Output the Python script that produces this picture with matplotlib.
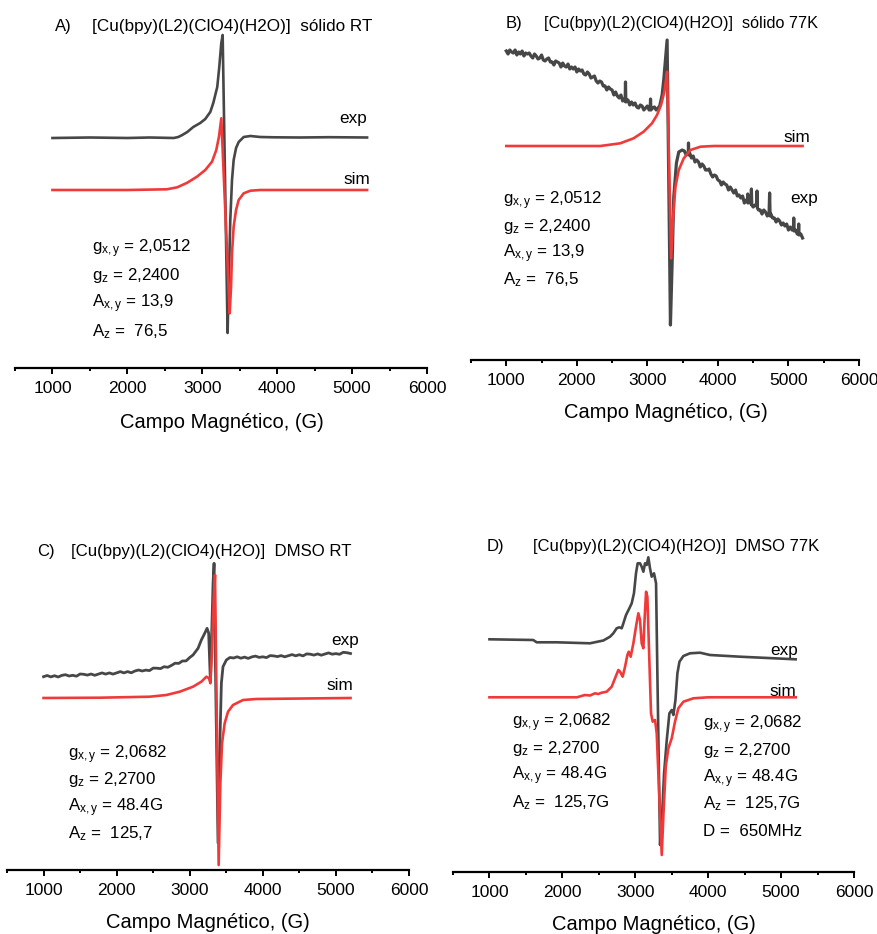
import matplotlib
matplotlib.use("Agg")
import matplotlib.pyplot as plt
from matplotlib.ticker import MultipleLocator

plt.rcParams['font.family'] = ['Liberation Sans', 'DejaVu Sans']
plt.rcParams['mathtext.fontset'] = 'custom'
plt.rcParams['mathtext.rm'] = 'Liberation Sans'
plt.rcParams['mathtext.it'] = 'Liberation Sans'

W, H = 877, 934
EXP_COLOR = '#474747'
SIM_COLOR = '#f03a3a'

# ---------------- spectra (field in G, intensity in a.u.) ----------------
# A) solid, room temperature
field_a_exp = [1000, 1500, 2000, 2300, 2620, 2680, 2733, 2800, 2880, 2973,
               3040, 3107, 3147, 3200, 3227, 3254, 3272, 3338, 3352, 3374,
               3397, 3419, 3451, 3486, 3553, 3642, 3775, 3953, 4300, 4700,
               5200]
int_a_exp = [230, 230.5, 230, 230.5, 230, 231, 233, 236, 241, 245,
             249, 256, 265, 281, 301, 325, 333, 35, 81, 148,
             188, 208, 220, 226, 231, 232, 231, 230.7, 230.5, 230.8,
             230.5]
field_a_sim = [1000, 2000, 2528, 2666, 2800, 2929, 3040, 3130, 3187, 3223,
               3254, 3366, 3384, 3397, 3419, 3451, 3486, 3553, 3642, 3775,
               5200]
int_a_sim = [178, 178, 178.7, 180.7, 185.3, 191.3, 198, 206.3, 218, 231.3,
             249.7, 54.7, 81, 114.7, 141.3, 158, 168, 174.7, 177.3, 178,
             178]

# B) solid, 77 K
field_b_exp = [1000, 1025, 1050, 1075, 1100, 1125, 1150, 1175, 1200, 1225,
               1250, 1275, 1300, 1325, 1350, 1375, 1400, 1425, 1450, 1475,
               1500, 1525, 1550, 1575, 1600, 1625, 1650, 1675, 1700, 1725,
               1750, 1775, 1800, 1825, 1850, 1875, 1900, 1925, 1950, 1975,
               2000, 2025, 2050, 2075, 2100, 2125, 2150, 2175, 2200, 2225,
               2250, 2275, 2300, 2325, 2350, 2375, 2400, 2425, 2450, 2475,
               2500, 2525, 2550, 2575, 2600, 2625, 2650, 2675, 2685, 2690,
               2695, 2700, 2725, 2750, 2775, 2800, 2825, 2850, 2875, 2900,
               2925, 2950, 2975, 3000, 3025, 3040, 3045, 3050, 3075, 3100,
               3125, 3150, 3175, 3200, 3209, 3232, 3256, 3280, 3327, 3351,
               3374, 3412, 3445, 3493, 3525, 3550, 3575, 3580, 3583, 3587,
               3600, 3625, 3650, 3675, 3700, 3725, 3750, 3775, 3800, 3825,
               3850, 3875, 3900, 3925, 3950, 3975, 4000, 4025, 4050, 4075,
               4100, 4125, 4150, 4175, 4200, 4225, 4250, 4275, 4300, 4325,
               4350, 4375, 4400, 4420, 4423, 4426, 4450, 4470, 4475, 4480,
               4500, 4525, 4550, 4555, 4560, 4575, 4600, 4625, 4650, 4675,
               4700, 4725, 4733, 4740, 4750, 4775, 4800, 4825, 4850, 4875,
               4900, 4925, 4950, 4975, 5000, 5025, 5050, 5070, 5075, 5080,
               5100, 5125, 5140, 5145, 5150, 5175, 5200]
int_b_exp = [309, 306, 310, 308, 307, 310, 305, 308, 306, 309,
             304, 307, 306, 307, 304, 302, 306, 304, 301, 302,
             305, 300, 299, 301, 302, 298, 298, 295, 299, 298,
             297, 293, 297, 294, 293, 296, 291, 293, 291, 293,
             288, 291, 289, 290, 286, 285, 288, 286, 282, 283,
             284, 279, 277, 279, 278, 274, 274, 270, 273, 271,
             270, 265, 268, 264, 262, 265, 259, 261, 259, 278,
             258, 260, 260, 255, 258, 255, 257, 253, 252, 255,
             254, 250, 252, 254, 250, 251, 261, 250, 252, 253,
             250, 252, 254, 262, 265, 280, 300, 320, 35, 97,
             163, 197, 208, 210, 209, 205, 207, 206, 217, 205,
             207, 202, 204, 198, 200, 198, 193, 196, 194, 190,
             190, 191, 186, 183, 185, 184, 180, 179, 175, 178,
             176, 175, 170, 173, 170, 167, 170, 164, 165, 162,
             164, 157, 160, 158, 166, 157, 159, 156, 171, 155,
             153, 155, 154, 169, 152, 150, 150, 146, 150, 148,
             144, 146, 167, 144, 146, 142, 142, 138, 141, 139,
             135, 137, 134, 136, 130, 133, 130, 131, 142, 129,
             130, 126, 127, 136, 125, 126, 122]
field_b_sim = [1000, 2332, 2616, 2805, 2947, 3066, 3137, 3194, 3241, 3270,
               3280, 3337, 3365, 3398, 3445, 3516, 3611, 3753, 3942, 5200]
int_b_sim = [214, 214, 216.7, 221.7, 228.3, 236.7, 245, 255, 268.3, 283.3,
             288.3, 101.7, 143.3, 173.3, 190, 201.7, 210, 213.3, 214, 214]

# C) DMSO, room temperature
field_c_exp = [1000, 1050, 1100, 1150, 1200, 1250, 1300, 1350, 1400, 1450,
               1500, 1550, 1600, 1650, 1700, 1750, 1800, 1850, 1900, 1950,
               2000, 2050, 2100, 2150, 2200, 2250, 2300, 2350, 2400, 2450,
               2500, 2550, 2600, 2650, 2700, 2750, 2800, 2850, 2900, 2950,
               3000, 3045, 3114, 3159, 3205, 3237, 3259, 3283, 3319, 3333,
               3355, 3387, 3410, 3433, 3455, 3501, 3550, 3600, 3650, 3700,
               3750, 3800, 3850, 3900, 3950, 4000, 4050, 4100, 4150, 4200,
               4250, 4300, 4350, 4400, 4450, 4500, 4550, 4600, 4650, 4700,
               4750, 4800, 4850, 4900, 4950, 5000, 5050, 5100, 5150, 5200]
int_c_exp = [193.3, 194.5, 193.1, 194.3, 193.0, 194.6, 195.3, 194.0, 194.7, 193.8,
             196.0, 195.7, 194.9, 196.0, 194.7, 195.9, 197.1, 195.9, 197.1, 195.9,
             197.1, 198.4, 197.1, 198.4, 197.2, 199.0, 200.0, 199.0, 199.9, 199.4,
             201.9, 201.8, 201.4, 203.3, 202.7, 204.6, 206.8, 206.6, 209.0, 209.1,
             212.5, 215.0, 221.7, 230.0, 236.7, 241.7, 237.0, 188.3, 286.7, 306.7,
             187.0, 27.0, 120.0, 186.7, 203.3, 210.0, 212.5, 212.0, 213.2, 211.8,
             212.9, 211.6, 213.1, 213.9, 212.6, 213.2, 212.4, 214.4, 214.1, 213.4,
             214.4, 213.2, 214.3, 215.4, 214.2, 215.3, 214.1, 216.1, 215.8, 214.9,
             216.1, 214.8, 216.0, 217.1, 215.8, 216.4, 215.7, 217.7, 217.3, 216.5]
field_c_sim = [1000, 1770, 2454, 2681, 2863, 3045, 3159, 3228, 3264, 3283,
               3305, 3328, 3346, 3364, 3396, 3419, 3442, 3478, 3524, 3592,
               3729, 3911, 5200]
int_c_sim = [172, 172.3, 173.3, 175, 178.3, 183.3, 188.3, 193.3, 191.7, 186.7,
             220, 270, 295, 187, 5, 86.7, 126.7, 146.7, 158.3, 165,
             170, 171, 172]

# D) DMSO, 77 K
field_d_exp = [1000, 1600, 1648, 1922, 2379, 2562, 2654, 2699, 2745, 2781,
               2814, 2837, 2873, 2919, 2951, 2982, 3010, 3033, 3065, 3088,
               3111, 3134, 3157, 3179, 3202, 3225, 3257, 3285, 3303, 3340,
               3363, 3395, 3432, 3468, 3500, 3523, 3551, 3578, 3606, 3660,
               3751, 3888, 4025, 4437, 5200]
int_d_exp = [232.7, 232, 229.7, 229.7, 228.7, 231.5, 235.3, 238.7, 243.7, 244.7,
             243.7, 248.7, 257, 263.7, 268.7, 278.7, 298.7, 308.7, 308.7, 305.3,
             300.3, 308.7, 307, 314.7, 303.7, 295.3, 298.7, 288.7, 199, 27,
             49, 98.7, 132, 158.7, 162, 157, 172, 198.7, 210.3, 216,
             218.7, 219.3, 217, 215.3, 212.7]
field_d_sim = [1000, 2200, 2310, 2379, 2447, 2493, 2539, 2608, 2677, 2722,
               2768, 2791, 2827, 2860, 2892, 2910, 2937, 2974, 3010, 3042,
               3065, 3088, 3111, 3125, 3148, 3166, 3193, 3216, 3239, 3271,
               3294, 3326, 3363, 3385, 3418, 3454, 3500, 3545, 3591, 3660,
               3797, 4000, 5200]
int_d_sim = [174.7, 174.7, 177, 176.5, 178.7, 178, 179.3, 180.3, 185.3, 193.7,
             202, 200.3, 195.3, 205.3, 217, 220.3, 215.3, 228.7, 245.3, 258.7,
             252, 228.7, 223.7, 248.7, 280.3, 275.3, 212, 158.7, 150.3, 152,
             138.7, 82, 17, 55.3, 105.3, 123.7, 133.7, 150.3, 163.7, 170.3,
             173.7, 174.7, 174.7]

# ---------------- panel texts ----------------
tick_values = [1000, 2000, 3000, 4000, 5000, 6000]
panel_letters = ['A)', 'B)', 'C)', 'D)']
panel_titles = ['[Cu(bpy)(L2)(ClO4)(H2O)]  sólido RT',
                '[Cu(bpy)(L2)(ClO4)(H2O)]  sólido 77K',
                '[Cu(bpy)(L2)(ClO4)(H2O)]  DMSO RT',
                '[Cu(bpy)(L2)(ClO4)(H2O)]  DMSO 77K']
params_solid = [r'g$\mathregular{_{x,y}}$ = 2,0512',
                r'g$\mathregular{_z}$ = 2,2400',
                r'A$\mathregular{_{x,y}}$ = 13,9',
                r'A$\mathregular{_z}$ =  76,5']
params_dmso_rt = [r'g$\mathregular{_{x,y}}$ = 2,0682',
                  r'g$\mathregular{_z}$ = 2,2700',
                  r'A$\mathregular{_{x,y}}$ = 48.4G',
                  r'A$\mathregular{_z}$ =  125,7']
params_dmso_77 = [r'g$\mathregular{_{x,y}}$ = 2,0682',
                  r'g$\mathregular{_z}$ = 2,2700',
                  r'A$\mathregular{_{x,y}}$ = 48.4G',
                  r'A$\mathregular{_z}$ =  125,7G']
params_dmso_77_d = params_dmso_77 + ['D =  650MHz']
xlabel = 'Campo Magnético, (G)'

fig = plt.figure(figsize=(W / 100, H / 100), dpi=100)


def frac(px, py):
    return px / W, 1 - py / H


def make_axes(x0, x1, ybot, ytop):
    ax = fig.add_axes([x0 / W, 1 - ybot / H, (x1 - x0) / W, (ybot - ytop) / H])
    ax.set_xlim(500, 6000)
    ax.set_ylim(0, ybot - ytop)
    for s in ('top', 'right', 'left'):
        ax.spines[s].set_visible(False)
    ax.spines['bottom'].set_linewidth(1.6)
    ax.set_yticks([])
    ax.set_xticks(tick_values)
    ax.xaxis.set_minor_locator(MultipleLocator(500))
    ax.tick_params(axis='x', which='major', length=4.5, width=1.4,
                   labelsize=12.5, pad=5.2)
    ax.tick_params(axis='x', which='minor', length=2.4, width=1.4)
    ax.patch.set_alpha(0)
    return ax


def param_block(x, baselines, lines, size=12.2):
    for yy, s in zip(baselines, lines):
        fig.text(*frac(x, yy), s, fontsize=size, va='baseline', ha='left')


def heading(letter, lx, title, tx, y, size):
    fig.text(*frac(lx, y), letter, fontsize=12, va='baseline', ha='left')
    fig.text(*frac(tx, y), title, fontsize=size, va='baseline', ha='left')


def axis_label(cx, cy):
    fig.text(*frac(cx, cy), xlabel, fontsize=14.5, ha='center', va='center')


# ---- A ----
axA = make_axes(15, 427, 368, 20)
axA.plot(field_a_exp, int_a_exp, color=EXP_COLOR, lw=1.9)
axA.plot(field_a_sim, int_a_sim, color=SIM_COLOR, lw=1.9)
axA.text(4832, 245, 'exp', fontsize=12.3, va='baseline')
axA.text(4885, 184, 'sim', fontsize=12.3, va='baseline')
heading(panel_letters[0], 55, panel_titles[0], 92, 31, 12.3)
param_block(92, [252, 280, 307, 336], params_solid)
axis_label(222, 423)

# ---- B ----
axB = make_axes(471, 859, 360, 20)
axB.plot(field_b_exp, int_b_exp, color=EXP_COLOR, lw=2.3)
axB.plot(field_b_sim, int_b_sim, color=SIM_COLOR, lw=1.9)
axB.text(4932, 218, 'sim', fontsize=12.3, va='baseline')
axB.text(5031, 157, 'exp', fontsize=12.3, va='baseline')
heading(panel_letters[1], 506, panel_titles[1], 544, 28, 11.7)
param_block(503, [204, 231, 257, 284], params_solid)
axis_label(666, 412)

# ---- C ----
axC = make_axes(7, 409, 870, 540)
axC.plot(field_c_exp, int_c_exp, color=EXP_COLOR, lw=2.0)
axC.plot(field_c_sim, int_c_sim, color=SIM_COLOR, lw=1.9)
axC.text(4940, 225, 'exp', fontsize=12.3, va='baseline')
axC.text(4872, 180, 'sim', fontsize=12.3, va='baseline')
heading(panel_letters[2], 37, panel_titles[2], 71, 556, 12.1)
param_block(68, [758, 784, 811, 838], params_dmso_rt)
axis_label(208, 923)

# ---- D ----
axD = make_axes(453, 854, 872, 540)
axD.plot(field_d_exp, int_d_exp, color=EXP_COLOR, lw=1.9)
axD.plot(field_d_sim, int_d_sim, color=SIM_COLOR, lw=1.9)
axD.text(4848, 217, 'exp', fontsize=12.3, va='baseline')
axD.text(4835, 176, 'sim', fontsize=12.3, va='baseline')
heading(panel_letters[3], 487, panel_titles[3], 533, 551, 12.0)
param_block(512, [726, 753, 779, 807], params_dmso_77)
param_block(703, [728, 755, 782, 808, 836], params_dmso_77_d)
axis_label(654, 925)

fig.savefig('out.png', dpi=100)
